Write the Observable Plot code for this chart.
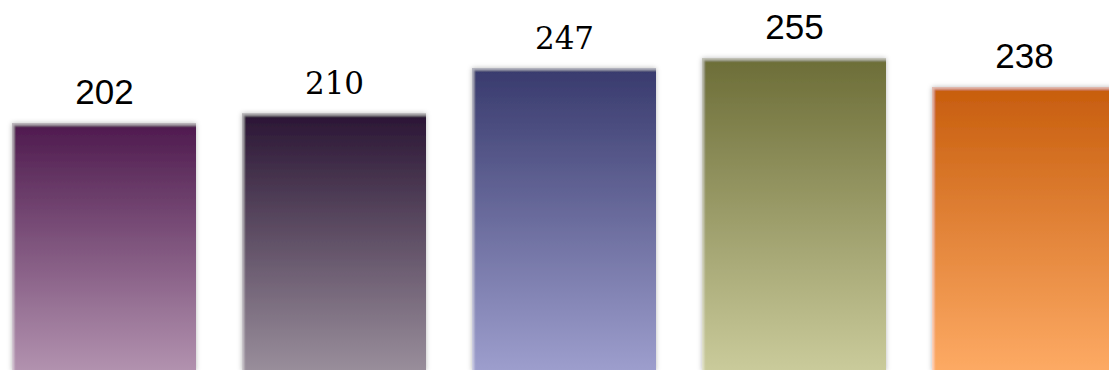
<!DOCTYPE html>
<html>
<head>
<meta charset="utf-8">
<script src="https://cdn.jsdelivr.net/npm/d3@7"></script>
<script src="https://cdn.jsdelivr.net/npm/@observablehq/plot@0.6"></script>
<style>
  html, body { margin: 0; padding: 0; background: #fff; overflow: hidden; }
  #chart { width: 1109px; height: 370px; overflow: hidden; }
</style>
</head>
<body>
<div id="chart"></div>
<script>
// ---- data ----
const categories = ["1", "2", "3", "4", "5"];
const values = [202, 210, 247, 255, 231.5];          // bar heights as drawn
const valueLabels = ["202", "210", "247", "255", "238"]; // printed labels
const topColors = ["#4e1a4e", "#2a1534", "#383a6d", "#6c6d37", "#c75d0d"];
const bottomColors = ["#b292af", "#998e9b", "#9d9ecd", "#cacb9b", "#fdaa64"];
const labelFonts = ["Liberation Sans", "DejaVu Serif", "DejaVu Serif", "Liberation Sans", "Liberation Sans"];

const rows = categories.map((c, i) => ({
  cat: c, value: values[i], label: valueLabels[i], grad: `url(#grad${i})`, font: labelFonts[i]
}));

const fontsUsed = Array.from(new Set(labelFonts));

const plot = Plot.plot({
  width: 1109,
  height: 370,
  marginTop: 0, marginBottom: 0, marginLeft: 0, marginRight: 0,
  x: { domain: categories, range: [-35, 1162], padding: 0.2, axis: null },
  y: { domain: [0, 255], range: [371, 58.3], axis: null },
  color: { type: "identity" },
  style: { background: "transparent", overflow: "hidden" },
  marks: [
    Plot.barY(rows, { x: "cat", y: "value", fill: "grad" }),
    ...fontsUsed.map(f => Plot.text(rows.filter(r => r.font === f), {
      x: "cat", y: "value", text: "label", dy: -20, lineAnchor: "bottom",
      fontSize: f === "DejaVu Serif" ? 31 : 35, fontFamily: f, fill: "#000"
    }))
  ]
});

// gradients and bevel / shadow filter
const ns = "http://www.w3.org/2000/svg";
const defs = document.createElementNS(ns, "defs");
categories.forEach((c, i) => {
  const g = document.createElementNS(ns, "linearGradient");
  g.setAttribute("id", `grad${i}`);
  g.setAttribute("x1", "0"); g.setAttribute("y1", "0");
  g.setAttribute("x2", "0"); g.setAttribute("y2", "1");
  [[0, topColors[i]], [1, bottomColors[i]]].forEach(([o, col]) => {
    const s = document.createElementNS(ns, "stop");
    s.setAttribute("offset", o);
    s.setAttribute("stop-color", col);
    g.appendChild(s);
  });
  defs.appendChild(g);
});
const filt = document.createElementNS(ns, "filter");
filt.setAttribute("id", "bevel");
filt.setAttribute("filterUnits", "userSpaceOnUse");
filt.setAttribute("x", "-20"); filt.setAttribute("y", "-20");
filt.setAttribute("width", "1160"); filt.setAttribute("height", "420");
filt.innerHTML = `
  <feGaussianBlur in="SourceAlpha" stdDeviation="2.5" result="blur"/>
  <feFlood flood-color="#000" flood-opacity="0.28" result="sc"/>
  <feComposite in="sc" in2="blur" operator="in" result="shadow"/>
  <feGaussianBlur in="SourceAlpha" stdDeviation="1.2" result="b2"/>
  <feOffset in="b2" dx="2" dy="2" result="b2o"/>
  <feComposite in="SourceAlpha" in2="b2o" operator="arithmetic" k1="0" k2="1" k3="-1" k4="0" result="edge"/>
  <feFlood flood-color="#fff" flood-opacity="0.45" result="wc"/>
  <feComposite in="wc" in2="edge" operator="in" result="glow"/>
  <feMerge>
    <feMergeNode in="shadow"/>
    <feMergeNode in="SourceGraphic"/>
    <feMergeNode in="glow"/>
  </feMerge>`;
defs.appendChild(filt);
plot.insertBefore(defs, plot.firstChild);
const barGroup = plot.querySelector('g[aria-label="bar"]');
if (barGroup) barGroup.setAttribute("filter", "url(#bevel)");

document.getElementById("chart").appendChild(plot);
</script>
</body>
</html>
